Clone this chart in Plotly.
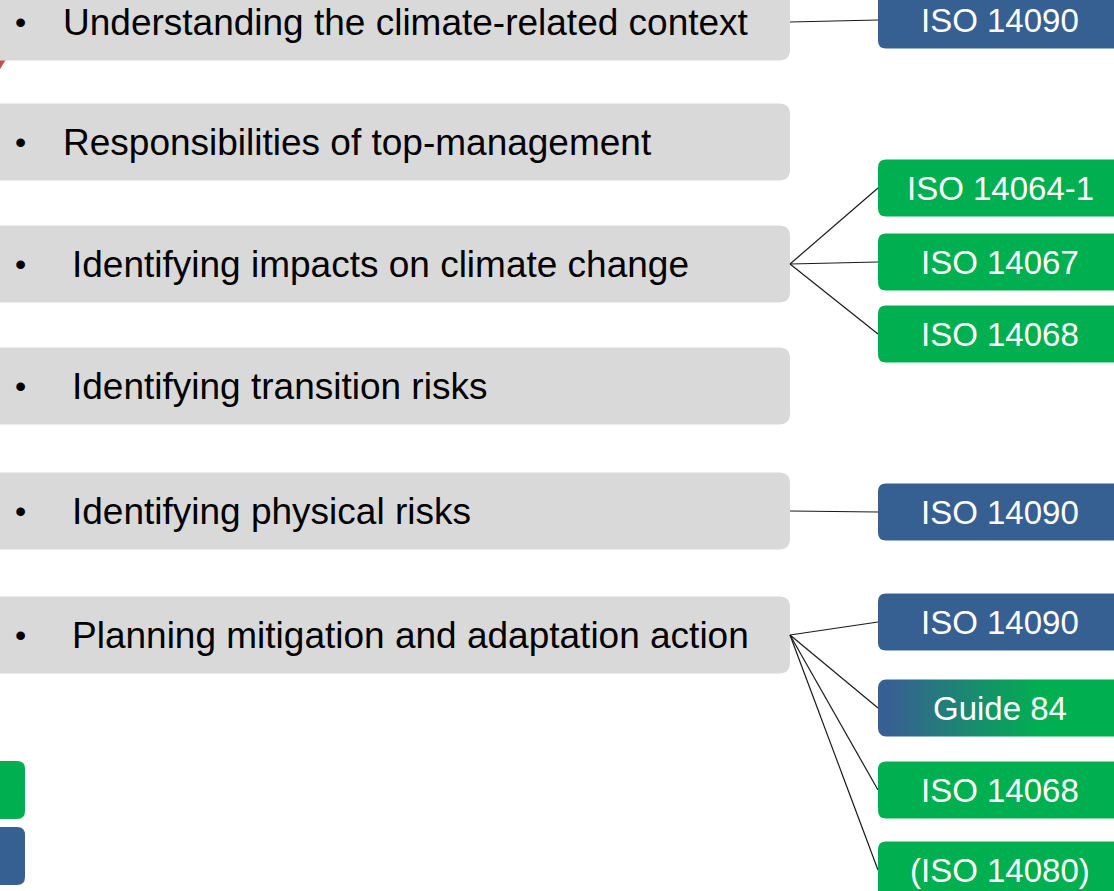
import plotly.graph_objects as go
import math

# ---- data ----
topics = [
    "Understanding the climate-related context",
    "Responsibilities of top-management",
    "Identifying impacts on climate change",
    "Identifying transition risks",
    "Identifying physical risks",
    "Planning mitigation and adaptation action",
]
topic_y = [22, 142, 264, 386, 511, 635]
topic_text_x = [61, 61, 70, 70, 70, 70]

standards = ["ISO 14090", "ISO 14064-1", "ISO 14067", "ISO 14068", "ISO 14090",
             "ISO 14090", "Guide 84", "ISO 14068", "(ISO 14080)"]
std_y = [20, 188, 262, 334, 512, 622, 708, 790, 870]
std_kind = ["blue", "green", "green", "green", "blue", "blue", "gradient", "green", "green"]
std_topic = [0, 2, 2, 2, 4, 5, 5, 5, 5]

legend_y = [790, 856]
legend_kind = ["green", "blue"]

# ---- style ----
W, H = 1114, 891
GRAY = "#D9D9D9"
BLUE = "#376092"
GREEN = "#00B050"
RED = "#C0504D"
COL = {"blue": BLUE, "green": GREEN}
FONT = "Liberation Sans, Arial, sans-serif"

TOPIC_X0, TOPIC_X1, TOPIC_HH = -20, 790, 38.5
STD_X0, STD_X1, STD_HH = 878, 1130, 28.5
LEG_X0, LEG_X1 = -20, 25


def rrect(x0, y0, x1, y1, r):
    return (f"M {x0+r},{y0} L {x1-r},{y0} Q {x1},{y0} {x1},{y0+r} "
            f"L {x1},{y1-r} Q {x1},{y1} {x1-r},{y1} L {x0+r},{y1} "
            f"Q {x0},{y1} {x0},{y1-r} L {x0},{y0+r} Q {x0},{y0} {x0+r},{y0} Z")


def rrect_pts(x0, y0, x1, y1, r, n=8):
    xs, ys = [], []
    corners = [(x1 - r, y0 + r, -90, 0), (x1 - r, y1 - r, 0, 90),
               (x0 + r, y1 - r, 90, 180), (x0 + r, y0 + r, 180, 270)]
    for cx, cy, a0, a1 in corners:
        for i in range(n + 1):
            a = math.radians(a0 + (a1 - a0) * i / n)
            xs.append(cx + r * math.cos(a))
            ys.append(cy + r * math.sin(a))
    xs.append(xs[0]); ys.append(ys[0])
    return xs, ys


fig = go.Figure()
shapes = []
annotations = []

# small red arrow tip at top-left (mostly hidden behind first box)
shapes.append(dict(type="path", path="M -4,50 L 8,56 L -4,76 Z",
                   fillcolor=RED, line=dict(width=0), layer="below"))

# connector lines
for ty_idx, sy in zip(std_topic, std_y):
    fig.add_trace(go.Scatter(x=[TOPIC_X1, STD_X0], y=[topic_y[ty_idx], sy], mode="lines",
                             line=dict(color="#1a1a1a", width=1.2), hoverinfo="skip",
                             showlegend=False))

# topic boxes
for t, y, tx in zip(topics, topic_y, topic_text_x):
    shapes.append(dict(type="path", path=rrect(TOPIC_X0, y - TOPIC_HH, TOPIC_X1, y + TOPIC_HH, 11),
                       fillcolor=GRAY, line=dict(width=0), layer="below"))
    annotations.append(dict(x=20, y=y, text="•", showarrow=False, xanchor="center",
                            yanchor="middle", font=dict(family=FONT, size=32, color="black")))
    annotations.append(dict(x=tx, y=y, text=t, showarrow=False, xanchor="left",
                            yanchor="middle", font=dict(family=FONT, size=37, color="black")))

# standard boxes
for s, y, k in zip(standards, std_y, std_kind):
    if k == "gradient":
        xs, ys = rrect_pts(STD_X0, y - STD_HH, STD_X1, y + STD_HH, 8)
        fig.add_trace(go.Scatter(x=xs, y=ys, mode="lines", fill="toself",
                                 line=dict(width=0, color="rgba(0,0,0,0)"),
                                 fillgradient=dict(type="horizontal",
                                                   colorscale=[[0, BLUE], [0.05, BLUE],
                                                               [0.65, GREEN], [1, GREEN]]),
                                 hoverinfo="skip", showlegend=False))
    else:
        shapes.append(dict(type="path", path=rrect(STD_X0, y - STD_HH, STD_X1, y + STD_HH, 8),
                           fillcolor=COL[k], line=dict(width=0), layer="above"))
    annotations.append(dict(x=1000, y=y, text=s, showarrow=False, xanchor="center",
                            yanchor="middle", font=dict(family=FONT, size=33, color="white")))

# legend swatches (cut off at left)
for y, k in zip(legend_y, legend_kind):
    shapes.append(dict(type="path", path=rrect(LEG_X0, y - 29, LEG_X1, y + 29, 8),
                       fillcolor=COL[k], line=dict(width=0), layer="below"))

fig.update_layout(
    width=W, height=H, margin=dict(l=0, r=0, t=0, b=0),
    paper_bgcolor="white", plot_bgcolor="white",
    xaxis=dict(range=[0, W], visible=False, fixedrange=True),
    yaxis=dict(range=[H, 0], visible=False, fixedrange=True),
    shapes=shapes, annotations=annotations, showlegend=False,
)

fig.write_html("out.html", config={"displayModeBar": False},
               post_script="document.body.style.margin='0px';document.body.style.overflow='hidden';")
